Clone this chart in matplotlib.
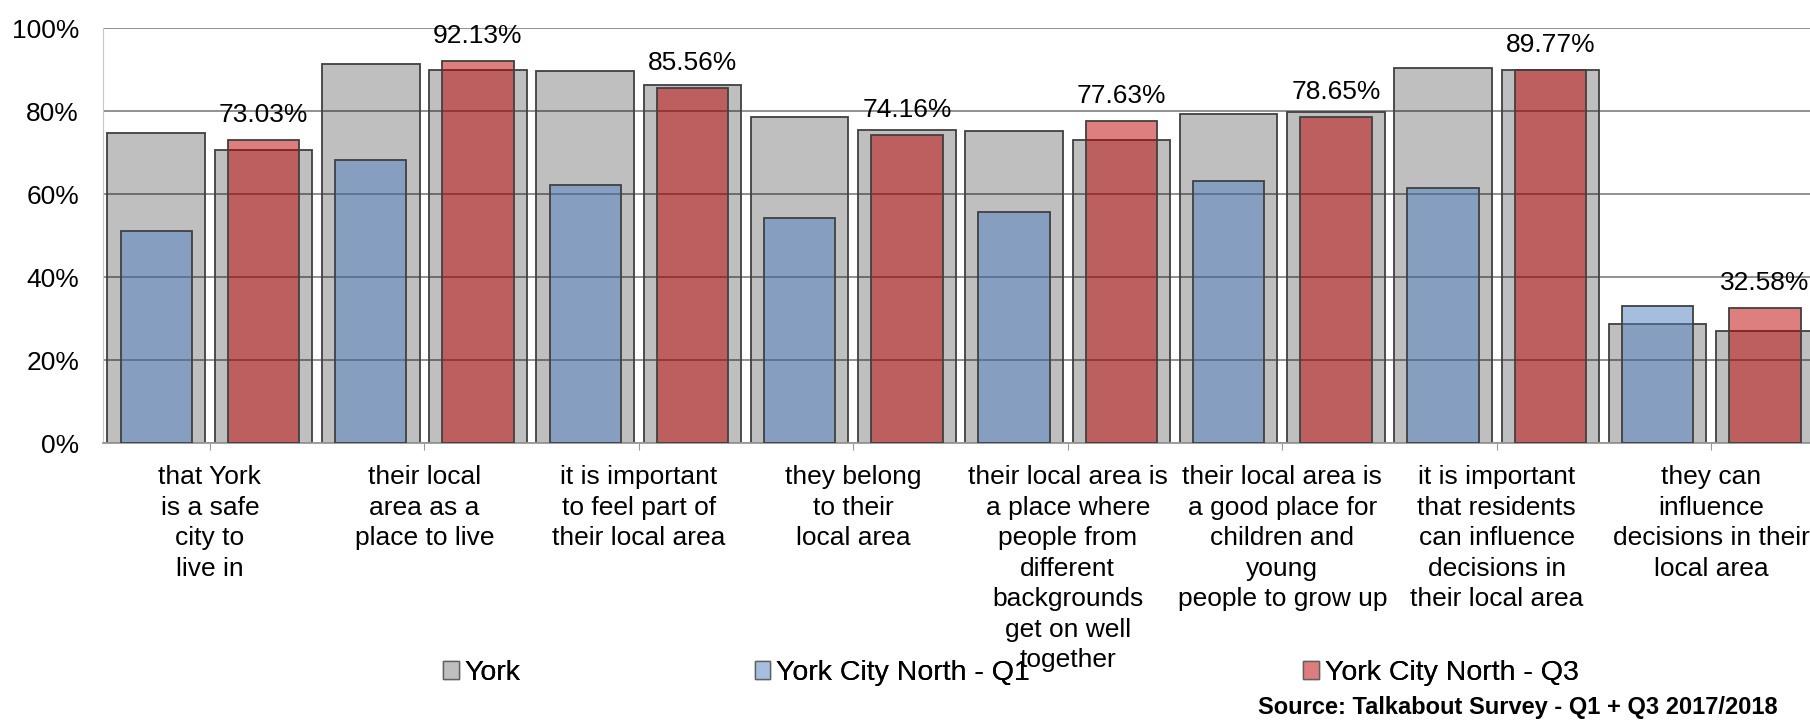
import matplotlib.pyplot as plt
from matplotlib.patches import Patch

plt.rcParams['font.family'] = ['Liberation Sans', 'DejaVu Sans']

# Talkabout survey - % agreeing, York vs York City North (Q1 and Q3 2017/2018)
categories = [
    'that York\nis a safe\ncity to\nlive in',
    'their local\narea as a\nplace to live',
    'it is important\nto feel part of\ntheir local area',
    'they belong\nto their\nlocal area',
    'their local area is\na place where\npeople from\ndifferent\nbackgrounds\nget on well\ntogether',
    'their local area is\na good place for\nchildren and\nyoung\npeople to grow up',
    'it is important\nthat residents\ncan influence\ndecisions in\ntheir local area',
    'they can\ninfluence\ndecisions in their\nlocal area',
]
york_q1 = [74.8, 91.3, 89.6, 78.6, 75.3, 79.3, 90.3, 28.7]
york_q3 = [70.6, 90.0, 86.2, 75.4, 72.9, 79.8, 90.0, 27.0]
north_q1 = [51.0, 68.1, 62.2, 54.3, 55.6, 63.1, 61.4, 32.9]
north_q3 = [73.03, 92.13, 85.56, 74.16, 77.63, 78.65, 89.77, 32.58]

grey = (0, 0, 0, 0.25)
blue = (79/255, 127/255, 191/255, 0.5)
red = (190/255, 0, 0, 0.5)
edge = '#404040'

fig = plt.figure(figsize=(18.1, 7.22), dpi=100)
ax = fig.add_axes([0.0567, 0.3864, 0.948, 0.5748])

x = list(range(len(categories)))
x1 = [i - 0.25 for i in x]
x3 = [i + 0.25 for i in x]

# wide York bars behind, narrow ward bars in front
ax.bar(x1, york_q1, width=0.455, color=grey, edgecolor=edge, linewidth=1.3, zorder=2)
ax.bar(x3, york_q3, width=0.455, color=grey, edgecolor=edge, linewidth=1.3, zorder=2)
ax.bar(x1, north_q1, width=0.333, color=blue, edgecolor=edge, linewidth=1.3, zorder=3)
bars_q3 = ax.bar(x3, north_q3, width=0.333, color=red, edgecolor=edge, linewidth=1.3, zorder=3)

for b, v in zip(bars_q3, north_q3):
    ax.annotate(f'{v:.2f}%', (b.get_x() + b.get_width() / 2, v), xytext=(0, 13),
                textcoords='offset points', ha='center', va='baseline', fontsize=19)

ax.set_xlim(-0.5, len(categories) - 0.5)
ax.set_ylim(0, 100)
ax.set_yticks([0, 20, 40, 60, 80, 100])
ax.set_yticklabels([f'{t}%' for t in [0, 20, 40, 60, 80, 100]], fontsize=19)
ax.tick_params(axis='y', length=0, pad=17)
ax.set_xticks(x)
ax.set_xticklabels(categories, fontsize=19, linespacing=1.34)
ax.tick_params(axis='x', length=5, color='#999999', pad=11)

ax.grid(axis='y', color='#888888', linewidth=1.3, zorder=0)
ax.set_axisbelow(True)
for s in ['top', 'right']:
    ax.spines[s].set_visible(False)
ax.spines['left'].set_color('#c8c8c8')
ax.spines['bottom'].set_color('#999999')
ax.spines['bottom'].set_linewidth(1.3)

# legend entries sit at their own spots, like the original
legend_items = [('York', '#bfbfbf', 0.245), ('York City North - Q1', '#a7bfdf', 0.417),
                ('York City North - Q3', '#de7c7e', 0.720)]
for name, col, lx in legend_items:
    h = Patch(facecolor=col, edgecolor='#606060', linewidth=1.0)
    fig.add_artist(fig.legend([h], [name], loc='center left', bbox_to_anchor=(lx, 0.068),
                              frameon=False, fontsize=20.5, handlelength=0.55, handleheight=0.6,
                              handletextpad=0.2, borderpad=0, borderaxespad=0))

fig.text(0.982, 0.004, 'Source: Talkabout Survey - Q1 + Q3 2017/2018', ha='right', va='bottom',
         fontsize=17, fontweight='bold')

fig.savefig('out.png', dpi=100)
